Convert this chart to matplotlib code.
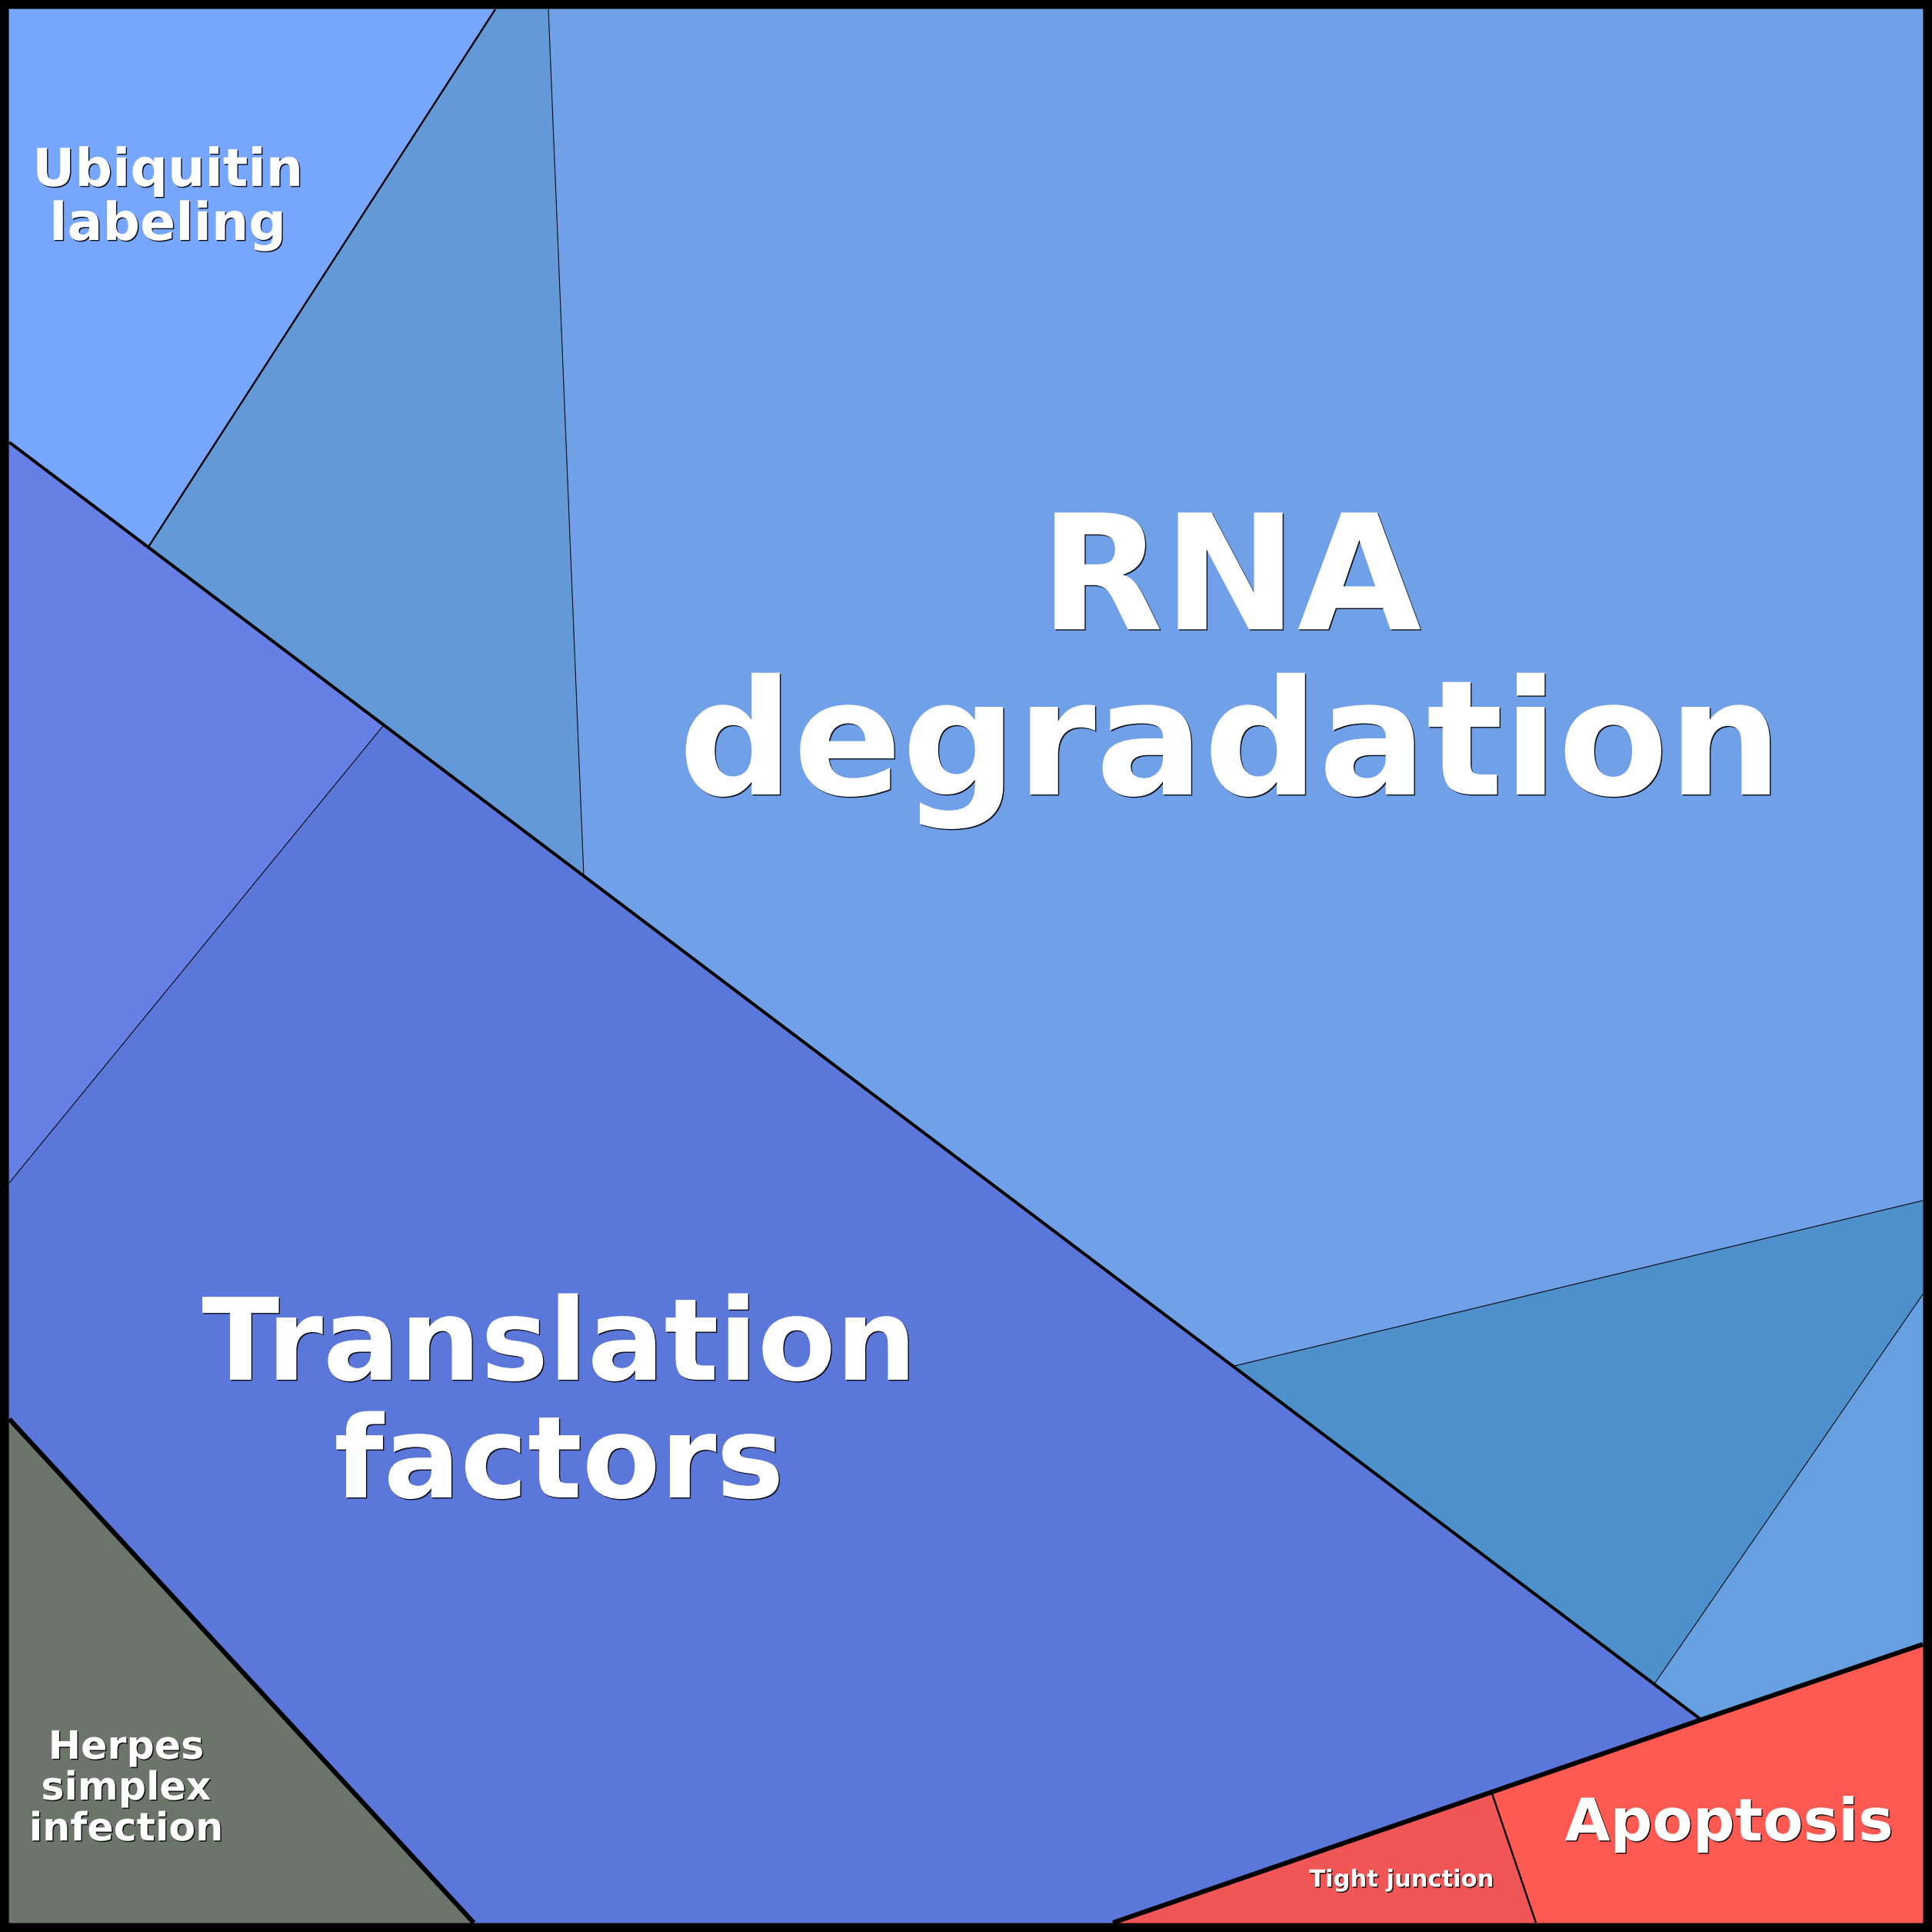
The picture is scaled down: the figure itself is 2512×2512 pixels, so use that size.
#!/usr/bin/env python3
# -*- coding: utf-8 -*-
"""
Voronoi treemap de vias: celulas poligonais lidas da figura de referencia.
"""
import matplotlib
matplotlib.use("Agg")
import matplotlib.pyplot as plt
from matplotlib.patches import Polygon
import matplotlib.patheffects as pe

#%%
# Vertices das celulas (px numa tela de 2512, origem no canto superior esquerdo)
pt_name = ["TL", "TR", "BR", "BL", "A", "B", "C", "D", "E", "F", "G", "H",
           "I", "J", "K", "L", "M", "N", "O", "P", "Q", "R"]
pt_x = [12, 2500, 2500, 12, 644, 713, 12, 193, 498, 759, 1605, 2152,
        2212, 2500, 2500, 2500, 12, 12, 616, 1447, 1940, 1997]
pt_y = [12, 12, 2500, 2500, 12, 12, 575, 711, 944, 1139, 1776, 2188,
        2236, 1561, 1683, 2138, 1538, 1845, 2500, 2500, 2332, 2500]

# Celulas
cell_name = ["Ubiquitin labeling", "blue_mid", "RNA degradation", "blue_teal",
             "blue_small", "trans_left", "Translation factors",
             "Herpes simplex infection", "Tight junction", "Apoptosis"]
cell_vertices = [
    ["TL", "A", "D", "C"],
    ["A", "B", "F", "D"],
    ["B", "TR", "J", "G", "F"],
    ["G", "J", "K", "H"],
    ["H", "K", "L", "I"],
    ["C", "E", "M"],
    ["E", "I", "P", "O", "N", "M"],
    ["N", "O", "BL"],
    ["P", "Q", "R"],
    ["Q", "I", "L", "BR", "R"],
]
cell_color = ["#76a6fd", "#6499d8", "#70a0e8", "#4d90cb", "#66a0e0",
              "#6680e5", "#5b77d9", "#6c7569", "#f05656", "#ff5a52"]

# Arestas internas e nivel hierarquico (1 = mais grosso)
edge_from = ["N", "P", "I", "C", "A", "Q", "B", "G", "K", "E"]
edge_to   = ["O", "I", "L", "I", "D", "R", "F", "J", "H", "M"]
edge_level = [1, 1, 1, 2, 3, 3, 4, 4, 4, 4]
level_width = {1: 4.4, 2: 2.9, 3: 1.7, 4: 0.75}

# Rotulos (ancorados na linha de base da ultima linha)
label_text = ["RNA\ndegradation", "Translation\nfactors", "Ubiquitin\nlabeling",
              "Herpes\nsimplex\ninfection", "Apoptosis", "Tight junction"]
label_x = [1600, 727, 218, 164, 2248, 1822]
label_y = [1033, 1947, 312, 2393, 2393, 2453]
label_size = [150, 106.5, 49, 36.5, 55, 22]

#%%
P = {n: (x, y) for n, x, y in zip(pt_name, pt_x, pt_y)}

fig = plt.figure(figsize=(25.12, 25.12), dpi=100, facecolor="black")
ax = fig.add_axes([0, 0, 1, 1])
ax.set_xlim(0, 2512)
ax.set_ylim(2512, 0)
ax.axis("off")

for verts, col in zip(cell_vertices, cell_color):
    poly = Polygon([P[v] for v in verts], closed=True, facecolor=col,
                   edgecolor=col, lw=0.6, zorder=1)
    ax.add_patch(poly)

for a, b, lev in zip(edge_from, edge_to, edge_level):
    ax.plot([P[a][0], P[b][0]], [P[a][1], P[b][1]], color="black",
            lw=level_width[lev], solid_capstyle="butt", zorder=2)

shadow = [pe.withSimplePatchShadow(offset=(1.0, -1.0), shadow_rgbFace="black", alpha=0.9)]
for txt, x, y, s in zip(label_text, label_x, label_y, label_size):
    ax.text(x, y, txt, ha="center", va="baseline", multialignment="center",
            fontsize=s, fontweight="bold", color="white", family="DejaVu Sans",
            linespacing=1.08, path_effects=shadow, zorder=3)

fig.savefig("out.png", dpi=100, facecolor=fig.get_facecolor())
